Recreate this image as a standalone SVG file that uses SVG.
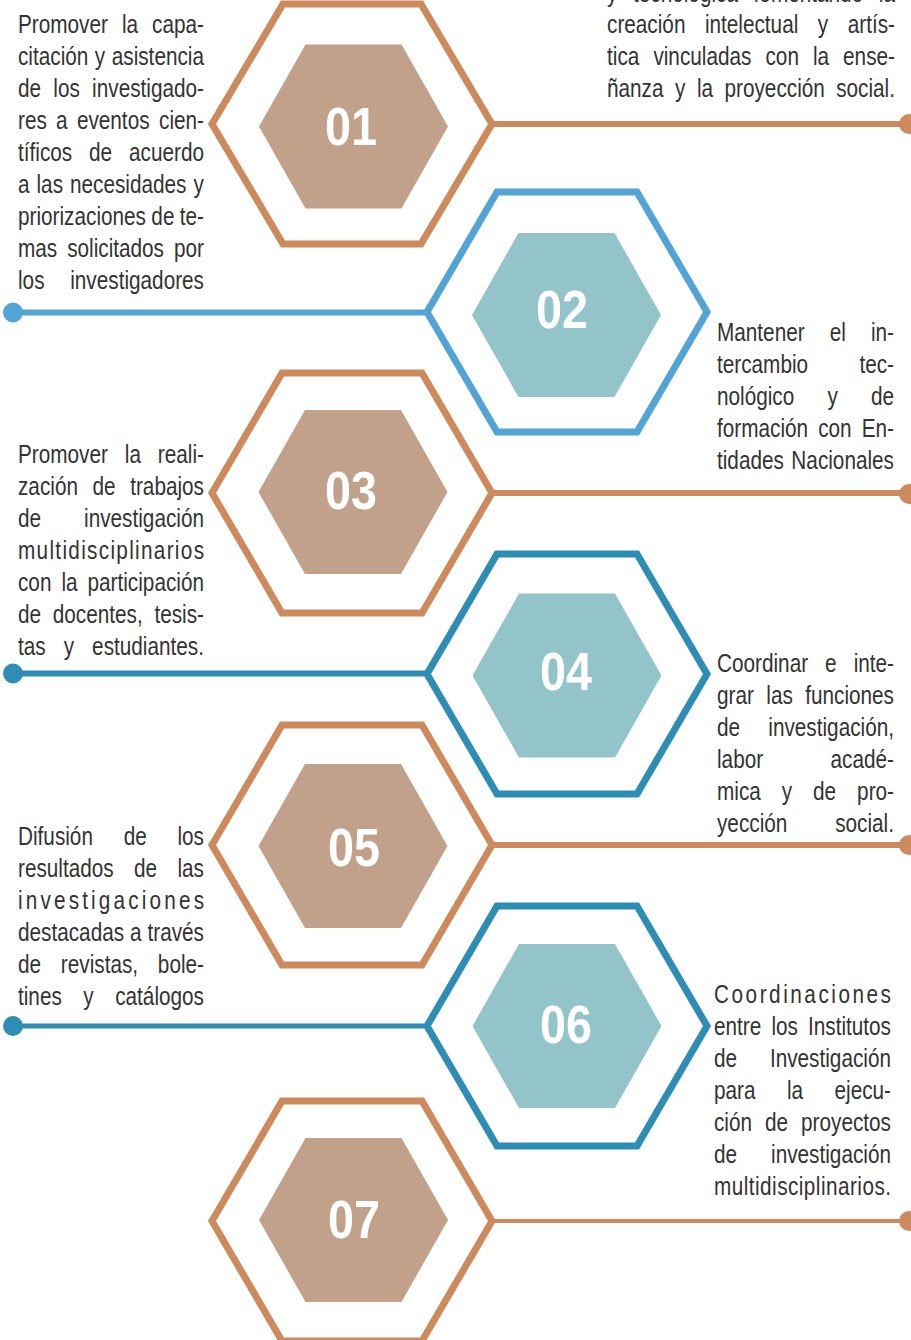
<svg xmlns="http://www.w3.org/2000/svg" width="911" height="1340" viewBox="0 0 911 1340">
<style>
.bg{fill:#ffffff}
.t{font-family:"Liberation Sans",Arial,sans-serif;font-size:25px;fill:#333333}
.e{text-anchor:end}
.n{font-family:"Liberation Sans",Arial,sans-serif;font-size:53px;font-weight:bold;fill:#ffffff}
.ob{fill:none;stroke:#cd8a5c;stroke-width:7;stroke-linejoin:miter}
.ou{fill:none;stroke:#52a3d6;stroke-width:7;stroke-linejoin:miter}
.ot{fill:none;stroke:#2d8db4;stroke-width:7;stroke-linejoin:miter}
.ib{fill:#c1a189}
.it{fill:#93c4c9}
.lb{stroke:#cd8a5c;stroke-width:6}
.lu{stroke:#52a3d6;stroke-width:6}
.lt{stroke:#2d8db4;stroke-width:6}
.db{fill:#cd8a5c}
.du{fill:#52a3d6}
.dt{fill:#2d8db4}
</style>
<rect class="bg" x="0" y="0" width="911" height="1340"/>
<g id="connectors">
<line class="lb" x1="492" y1="124" x2="909" y2="124"/><circle class="db" cx="909" cy="124" r="10"/>
<line class="lu" x1="13" y1="312.5" x2="427" y2="312.5"/><circle class="du" cx="13" cy="312.5" r="10"/>
<line class="lb" x1="492" y1="493" x2="909" y2="493"/><circle class="db" cx="909" cy="494" r="10"/>
<line class="lt" x1="13" y1="673.5" x2="427" y2="673.5"/><circle class="dt" cx="13" cy="673.5" r="10"/>
<line class="lb" x1="492" y1="845" x2="909" y2="845"/><circle class="db" cx="909" cy="845" r="10"/>
<line class="lt" x1="13" y1="1026" x2="427" y2="1026" style="stroke-width:5"/><circle class="dt" cx="13" cy="1026" r="10"/>
<line class="lb" x1="492" y1="1221" x2="909" y2="1221" style="stroke-width:4"/><circle class="db" cx="909" cy="1221" r="10"/>
</g>
<g id="node01">
<polygon class="ob" points="212,124 283,4 421,4 492,124 421,244 283,244"/>
<polygon class="ib" points="259,126.5 305.5,44.5 401.5,44.5 448,126.5 401.5,208.5 305.5,208.5"/>
<text class="n" x="325" y="145" textLength="52" lengthAdjust="spacingAndGlyphs">01</text>
</g>
<g id="node02">
<polygon class="ou" points="427,312 497,192 637,192 707,312 637,432 497,432"/>
<polygon class="it" points="472,315 518.5,233 614.5,233 661,315 614.5,397 518.5,397"/>
<text class="n" x="536" y="328" textLength="52" lengthAdjust="spacingAndGlyphs">02</text>
</g>
<g id="node03">
<polygon class="ob" points="212,493 282,373 422,373 492,493 422,613 282,613"/>
<polygon class="ib" points="258.5,492 305,410 401,410 447.5,492 401,574 305,574"/>
<text class="n" x="325" y="509" textLength="52" lengthAdjust="spacingAndGlyphs">03</text>
</g>
<g id="node04">
<polygon class="ot" points="427,674 497,554 637,554 707,674 637,794 497,794"/>
<polygon class="it" points="472.5,675.5 519,593.5 615,593.5 661.5,675.5 615,757.5 519,757.5"/>
<text class="n" x="540" y="690" textLength="52" lengthAdjust="spacingAndGlyphs">04</text>
</g>
<g id="node05">
<polygon class="ob" points="212,845 282,725 422,725 492,845 422,965 282,965"/>
<polygon class="ib" points="258.5,846 305,764 401,764 447.5,846 401,928 305,928"/>
<text class="n" x="328" y="866" textLength="52" lengthAdjust="spacingAndGlyphs">05</text>
</g>
<g id="node06">
<polygon class="ot" points="427,1026 497,906 637,906 707,1026 637,1146 497,1146"/>
<polygon class="it" points="472.5,1026 519,944 615,944 661.5,1026 615,1108 519,1108"/>
<text class="n" x="540" y="1043" textLength="52" lengthAdjust="spacingAndGlyphs">06</text>
</g>
<g id="node07">
<polygon class="ob" points="212,1221 282,1101 422,1101 492,1221 422,1341 282,1341"/>
<polygon class="ib" points="259,1220 305.5,1138 401.5,1138 448,1220 401.5,1302 305.5,1302"/>
<text class="n" x="328" y="1238" textLength="52" lengthAdjust="spacingAndGlyphs">07</text>
</g>
<g id="text01" transform="scale(0.83,1)">
<text class="t" y="33"><tspan x="21.69">Promover</tspan><tspan x="146.99">la</tspan><tspan class="e" x="245.78">capa-</tspan></text>
<text class="t" y="65"><tspan x="21.69">citación</tspan><tspan x="114.22">y</tspan><tspan class="e" x="245.78">asistencia</tspan></text>
<text class="t" y="97"><tspan x="21.69">de</tspan><tspan x="64.28">los</tspan><tspan class="e" x="245.78">investigado-</tspan></text>
<text class="t" y="129"><tspan x="21.69">res</tspan><tspan x="67.59">a</tspan><tspan x="92.65">eventos</tspan><tspan class="e" x="245.78">cien-</tspan></text>
<text class="t" y="161"><tspan x="21.69">tíficos</tspan><tspan x="107.29">de</tspan><tspan class="e" x="245.78">acuerdo</tspan></text>
<text class="t" y="193"><tspan x="21.69">a</tspan><tspan x="43.98">las</tspan><tspan x="84.34">necesidades</tspan><tspan class="e" x="245.78">y</tspan></text>
<text class="t" y="225"><tspan x="21.69">priorizaciones</tspan><tspan x="182.35">de</tspan><tspan class="e" x="245.78">te-</tspan></text>
<text class="t" y="257"><tspan x="21.69">mas</tspan><tspan x="80.90">solicitados</tspan><tspan class="e" x="245.78">por</tspan></text>
<text class="t" y="289"><tspan x="21.69">los</tspan><tspan class="e" x="245.78">investigadores</tspan></text>
</g>
<g id="text02" transform="scale(0.83,1)">
<text class="t" y="2"><tspan x="731.33">y</tspan><tspan x="762.65">tecnológica</tspan><tspan x="907.95">fomentando</tspan><tspan class="e" x="1078.31">la</tspan></text>
<text class="t" y="33"><tspan x="731.33">creación</tspan><tspan x="849.28">intelectual</tspan><tspan x="985.30">y</tspan><tspan class="e" x="1078.31">artís-</tspan></text>
<text class="t" y="65"><tspan x="731.33">tica</tspan><tspan x="787.23">vinculadas</tspan><tspan x="922.29">con</tspan><tspan x="979.52">la</tspan><tspan class="e" x="1078.31">ense-</tspan></text>
<text class="t" y="97"><tspan x="731.33">ñanza</tspan><tspan x="813.25">y</tspan><tspan x="839.64">la</tspan><tspan x="872.89">proyección</tspan><tspan class="e" x="1078.31">social.</tspan></text>
</g>
<g id="text03" transform="scale(0.83,1)">
<text class="t" y="341"><tspan x="863.86">Mantener</tspan><tspan x="999.64">el</tspan><tspan class="e" x="1077.11">in-</tspan></text>
<text class="t" y="373"><tspan x="863.86">tercambio</tspan><tspan class="e" x="1077.11">tec-</tspan></text>
<text class="t" y="405"><tspan x="863.86">nológico</tspan><tspan x="996.87">y</tspan><tspan class="e" x="1077.11">de</tspan></text>
<text class="t" y="437"><tspan x="863.86">formación</tspan><tspan x="985.78">con</tspan><tspan class="e" x="1077.11">En-</tspan></text>
<text class="t" y="469"><tspan x="863.86">tidades</tspan><tspan class="e" x="1077.11">Nacionales</tspan></text>
</g>
<g id="text04" transform="scale(0.83,1)">
<text class="t" y="463"><tspan x="21.69">Promover</tspan><tspan x="150.42">la</tspan><tspan class="e" x="245.78">reali-</tspan></text>
<text class="t" y="495"><tspan x="21.69">zación</tspan><tspan x="111.51">de</tspan><tspan class="e" x="245.78">trabajos</tspan></text>
<text class="t" y="527"><tspan x="21.69">de</tspan><tspan class="e" x="245.78">investigación</tspan></text>
<text class="t" x="21.69" y="559" textLength="224.1" lengthAdjust="spacing">multidisciplinarios</text>
<text class="t" y="591"><tspan x="21.69">con</tspan><tspan x="73.98">la</tspan><tspan class="e" x="245.78">participación</tspan></text>
<text class="t" y="623"><tspan x="21.69">de</tspan><tspan x="63.55">docentes,</tspan><tspan class="e" x="245.78">tesis-</tspan></text>
<text class="t" y="655"><tspan x="21.69">tas</tspan><tspan x="76.75">y</tspan><tspan class="e" x="245.78">estudiantes.</tspan></text>
</g>
<g id="text05" transform="scale(0.83,1)">
<text class="t" y="672"><tspan x="863.86">Coordinar</tspan><tspan x="994.10">e</tspan><tspan class="e" x="1077.11">inte-</tspan></text>
<text class="t" y="704"><tspan x="863.86">grar</tspan><tspan x="923.25">las</tspan><tspan class="e" x="1077.11">funciones</tspan></text>
<text class="t" y="736"><tspan x="863.86">de</tspan><tspan class="e" x="1077.11">investigación,</tspan></text>
<text class="t" y="768"><tspan x="863.86">labor</tspan><tspan class="e" x="1077.11">acadé-</tspan></text>
<text class="t" y="800"><tspan x="863.86">mica</tspan><tspan x="941.81">y</tspan><tspan x="979.52">de</tspan><tspan class="e" x="1077.11">pro-</tspan></text>
<text class="t" y="832"><tspan x="863.86">yección</tspan><tspan class="e" x="1077.11">social.</tspan></text>
</g>
<g id="text06" transform="scale(0.83,1)">
<text class="t" y="845"><tspan x="21.69">Difusión</tspan><tspan x="148.98">de</tspan><tspan class="e" x="245.78">los</tspan></text>
<text class="t" y="877"><tspan x="21.69">resultados</tspan><tspan x="161.51">de</tspan><tspan class="e" x="245.78">las</tspan></text>
<text class="t" x="21.69" y="909" textLength="224.1" lengthAdjust="spacing">investigaciones</text>
<text class="t" y="941"><tspan x="21.69">destacadas</tspan><tspan x="156.69">a</tspan><tspan class="e" x="245.78">través</tspan></text>
<text class="t" y="973"><tspan x="21.69">de</tspan><tspan x="73.31">revistas,</tspan><tspan class="e" x="245.78">bole-</tspan></text>
<text class="t" y="1005"><tspan x="21.69">tines</tspan><tspan x="100.36">y</tspan><tspan class="e" x="245.78">catálogos</tspan></text>
</g>
<g id="text07" transform="scale(0.83,1)">
<text class="t" x="860.24" y="1003" textLength="213.25" lengthAdjust="spacing">Coordinaciones</text>
<text class="t" y="1035"><tspan x="860.24">entre</tspan><tspan x="929.40">los</tspan><tspan class="e" x="1073.49">Institutos</tspan></text>
<text class="t" y="1067"><tspan x="860.24">de</tspan><tspan class="e" x="1073.49">Investigación</tspan></text>
<text class="t" y="1099"><tspan x="860.24">para</tspan><tspan x="948.13">la</tspan><tspan class="e" x="1073.49">ejecu-</tspan></text>
<text class="t" y="1131"><tspan x="860.24">ción</tspan><tspan x="921.69">de</tspan><tspan class="e" x="1073.49">proyectos</tspan></text>
<text class="t" y="1163"><tspan x="860.24">de</tspan><tspan class="e" x="1073.49">investigación</tspan></text>
<text class="t" x="860.24" y="1195" textLength="213.25" lengthAdjust="spacing">multidisciplinarios.</text>
</g>
</svg>
